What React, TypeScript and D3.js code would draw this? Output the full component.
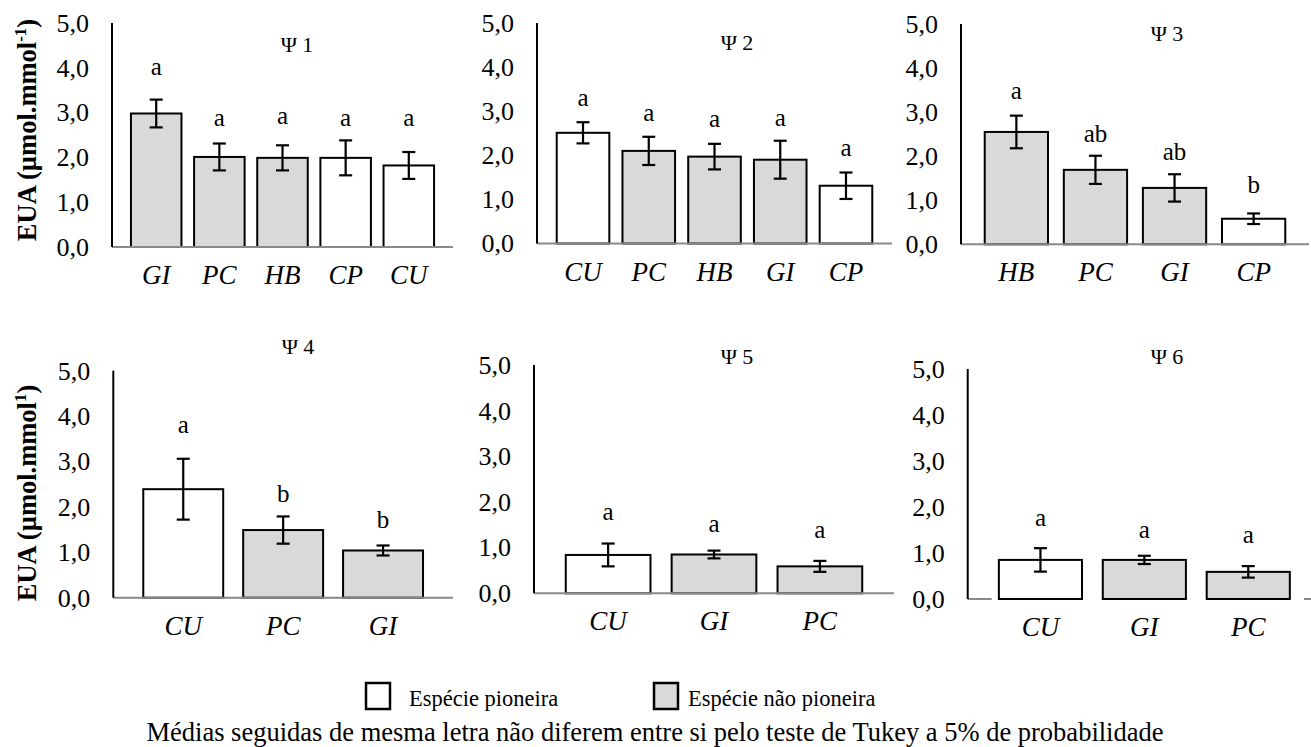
import React from "react";
import * as d3 from "d3";

// Water-use efficiency (EUA) per species, one panel per water potential level
const titles = ["Ψ 1", "Ψ 2", "Ψ 3", "Ψ 4", "Ψ 5", "Ψ 6"];

const categories = [
  ["GI", "PC", "HB", "CP", "CU"],
  ["CU", "PC", "HB", "GI", "CP"],
  ["HB", "PC", "GI", "CP"],
  ["CU", "PC", "GI"],
  ["CU", "GI", "PC"],
  ["CU", "GI", "PC"],
];

const means = [
  [2.98, 2.01, 1.99, 1.99, 1.82],
  [2.51, 2.1, 1.97, 1.9, 1.31],
  [2.55, 1.69, 1.28, 0.58],
  [2.39, 1.49, 1.04],
  [0.84, 0.85, 0.59],
  [0.85, 0.85, 0.59],
];

const errors = [
  [0.31, 0.3, 0.28, 0.39, 0.3],
  [0.24, 0.32, 0.29, 0.43, 0.3],
  [0.37, 0.32, 0.31, 0.12],
  [0.67, 0.3, 0.11],
  [0.25, 0.085, 0.12],
  [0.255, 0.09, 0.125],
];

// Tukey grouping letters and the level (in EUA units) where each sits
const letters = [
  ["a", "a", "a", "a", "a"],
  ["a", "a", "a", "a", "a"],
  ["a", "ab", "ab", "b"],
  ["a", "b", "b"],
  ["a", "a", "a"],
  ["a", "a", "a"],
];

const letterLevels = [
  [3.84, 2.7, 2.75, 2.7, 2.7],
  [3.11, 2.78, 2.65, 2.66, 1.98],
  [3.3, 2.33, 1.92, 1.16],
  [3.62, 2.11, 1.54],
  [1.61, 1.35, 1.22],
  [1.59, 1.33, 1.21],
];

const pioneerSpecies = ["CP", "CU"];
const yTicks = [0, 1, 2, 3, 4, 5];
const legendLabels = ["Espécie pioneira", "Espécie não pioneira"];
const caption =
  "Médias seguidas de mesma letra não diferem entre si pelo teste de Tukey a 5% de probabilidade";

// Panel frames: y-axis x, top of axis, baseline, right end of baseline, title anchor.
// The last panel's baseline only shows as short stubs at both ends.
const layout = [
  { x0: 112, top: 23, base: 247, x1: 453, tx: 297, ty: 45, stubs: false },
  { x0: 537, top: 23, base: 243.5, x1: 892, tx: 737, ty: 43, stubs: false },
  { x0: 961, top: 24, base: 244.3, x1: 1309, tx: 1167, ty: 34, stubs: false },
  { x0: 113.3, top: 370.7, base: 597.7, x1: 453, tx: 298, ty: 347, stubs: false },
  { x0: 534, top: 365, base: 593.3, x1: 894, tx: 737, ty: 357, stubs: false },
  { x0: 967.7, top: 369, base: 599, x1: 1321, tx: 1167, ty: 357, stubs: true },
];

const W = 1311;
const H = 747;
const FONT = "Liberation Serif, Tinos, Times New Roman, DejaVu Serif, serif";
const serif = { fontFamily: FONT };
const fmt = (v: number) => d3.format(".1f")(v).replace(".", ",");

function Panel({ i }: { i: number }) {
  const L = layout[i];
  const cats = categories[i];
  const x = d3
    .scaleBand<string>()
    .domain(cats)
    .range([L.x0, L.x1])
    .paddingInner(0.2)
    .paddingOuter(0.3);
  const y = d3.scaleLinear().domain([0, 5]).range([L.base, L.top]);
  const bw = x.bandwidth();
  const cap = 6.5;
  const right = Math.min(L.x1, W);

  return (
    <g>
      {/* y tick labels */}
      {yTicks.map((t) => (
        <text
          key={t}
          x={L.x0 - 23}
          y={y(t)}
          dy="0.34em"
          textAnchor="end"
          fontSize={26}
          style={serif}
          fill="#000"
        >
          {fmt(t)}
        </text>
      ))}
      {/* bars */}
      {cats.map((c, j) => (
        <rect
          key={c}
          x={x(c)!}
          y={y(means[i][j])}
          width={bw}
          height={y(0) - y(means[i][j])}
          fill={pioneerSpecies.includes(c) ? "#ffffff" : "#d9d9d9"}
          stroke="#000"
          strokeWidth={2}
        />
      ))}
      {/* baseline and y axis */}
      {L.stubs ? (
        <g stroke="#898989" strokeWidth={2}>
          <line x1={L.x0} x2={L.x0 + 24} y1={L.base} y2={L.base} />
          <line x1={right - 7} x2={right} y1={L.base} y2={L.base} />
        </g>
      ) : (
        <line x1={L.x0} x2={right} y1={L.base} y2={L.base} stroke="#898989" strokeWidth={2} />
      )}
      <line x1={L.x0} x2={L.x0} y1={L.top} y2={L.base} stroke="#000" strokeWidth={2} />
      {/* error bars */}
      {cats.map((c, j) => {
        const cx = x(c)! + bw / 2;
        const hi = y(means[i][j] + errors[i][j]);
        const lo = y(means[i][j] - errors[i][j]);
        return (
          <g key={c} stroke="#000" strokeWidth={2.2}>
            <line x1={cx} x2={cx} y1={hi} y2={lo} />
            <line x1={cx - cap} x2={cx + cap} y1={hi} y2={hi} />
            <line x1={cx - cap} x2={cx + cap} y1={lo} y2={lo} />
          </g>
        );
      })}
      {/* grouping letters */}
      {cats.map((c, j) => (
        <text
          key={c}
          x={x(c)! + bw / 2}
          y={y(letterLevels[i][j])}
          textAnchor="middle"
          fontSize={25}
          style={serif}
          fill="#000"
        >
          {letters[i][j]}
        </text>
      ))}
      {/* category labels */}
      {cats.map((c) => (
        <text
          key={c}
          x={x(c)! + bw / 2}
          y={L.base + 28}
          dy="0.34em"
          textAnchor="middle"
          fontSize={27}
          fontStyle="italic"
          style={serif}
          fill="#000"
        >
          {c}
        </text>
      ))}
      {/* panel title */}
      <text x={L.tx} y={L.ty} dy="0.34em" textAnchor="middle" fontSize={22} style={serif} fill="#000">
        {titles[i]}
      </text>
    </g>
  );
}

function YLabel({ cy, sup }: { cy: number; sup: string }) {
  return (
    <text
      transform={`translate(36,${cy}) rotate(-90)`}
      textAnchor="middle"
      fontSize={26.5}
      fontWeight="bold"
      style={serif}
      fill="#000"
    >
      EUA (µmol.mmol
      <tspan fontSize={17} dy={-10}>
        {sup}
      </tspan>
      <tspan dy={10}>)</tspan>
    </text>
  );
}

export default function App() {
  return (
    <svg width={W} height={H} style={{ position: "absolute", left: 0, top: 0, background: "#fff" }}>
      <rect width={W} height={H} fill="#fff" />
      {layout.map((_, i) => (
        <Panel key={i} i={i} />
      ))}
      <YLabel cy={130} sup="-1" />
      <YLabel cy={493} sup="1" />
      {/* legend */}
      <rect x={366} y={683} width={24} height={26} fill="#fff" stroke="#000" strokeWidth={2.5} />
      <text x={409} y={706} fontSize={22.5} style={serif} fill="#000">
        {legendLabels[0]}
      </text>
      <rect x={654} y={683} width={24} height={26} fill="#d9d9d9" stroke="#000" strokeWidth={2.5} />
      <text x={688} y={706} fontSize={22.5} style={serif} fill="#000">
        {legendLabels[1]}
      </text>
      <text x={655} y={741} textAnchor="middle" fontSize={26.5} style={serif} fill="#000">
        {caption}
      </text>
    </svg>
  );
}
